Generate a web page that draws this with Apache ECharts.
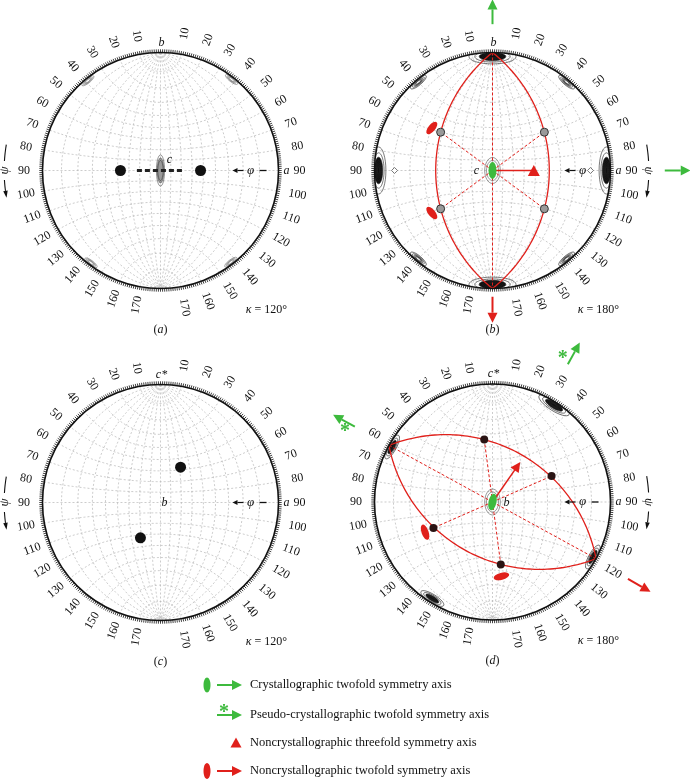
<!DOCTYPE html>
<html>
<head>
<meta charset="utf-8">
<style>html,body{margin:0;padding:0;background:#fff;}#main{width:690px;height:779px;}</style>
<script src="https://cdn.jsdelivr.net/npm/echarts@6/dist/echarts.min.js"></script>
</head>
<body>
<div id="main"></div>
<script>
// rim labels (psi, degrees from the top pole) and net spacing
var psiTicks = [10, 20, 30, 40, 50, 60, 70, 80, 90, 100, 110, 120, 130, 140, 150, 160, 170];
var netStep = 10;

// all positions below are [psi, phi] in degrees
var peaksA = [[90, 52.5], [90, 127.5]];
var coreBarA = [[90, 112.6], [90, 67.4]];
var peaksC = [[57.6, 68.9], [122.4, 111.1]];

var circlePolesB = [[90, 51.4], [90, 128.6]];
var threefoldB = [[90, 51.4]];
var twofoldB = [[60, 38.6], [120, 38.6], [60, 141.4], [120, 141.4]];
var ncsMarksB = [[58.9, 149.5], [121.1, 149.5]];
var poleLineB = [[0, 90], [180, 90]];
var smallPeaksB = [[90, 169.4], [90, 10.6]];

var circlePolesD = [[55.9, 68.3], [124.1, 111.7]];
var dotsD = [[34.5, 101.1], [70.2, 35.0], [109.8, 145.0], [145.5, 78.9]];
var rimPointsD = [[61.3, 180], [118.7, 0]];
var ncsMarksD = [[111.6, 152.0], [153.9, 75.8]];
var ncsArrowD = [[57.7, 63.9]];

var centre = [90, 90];

// contour peaks [psi, phi, number of levels]
var rimPeaksA = [[39, 178, 4], [38, 2, 4], [143, 178, 4], [142.5, 2, 4]];
var corePeaksA = [[90, 90, 3]];
var rimPeaksB = [[90, 178, 8], [90, 2, 8], [2, 90, 8], [178, 90, 8], [40, 178, 5], [40, 2, 5], [140, 178, 5], [140, 2, 5]];
var corePeaksB = [[90, 90, 2]];
var rimPeaksD = [[32.5, 3, 7], [61.3, 178, 6], [118.7, 2, 6], [148, 176, 6]];
var corePeaksD = [[90, 90, 2]];

var R = 118, S = 1.3;
var RED = '#e0201b', GREEN = '#3dba3d';
var serif = '"Liberation Serif", "Times New Roman", serif';

var panels = [
  { cx: 160.5, cy: 170.5, top: 'b', mid: 'c', mdx: 9, mdy: -11, kappa: '120°', tag: 'a', side: -1, dash: true, arrows: [] },
  { cx: 492.5, cy: 170.5, top: 'b', mid: 'c', mdx: -16, mdy: 0, kappa: '180°', tag: 'b', side: 1, dash: false,
    arrows: [[90, 1.24, 1.45, GREEN], [0, 1.46, 1.68, GREEN], [-90, 1.07, 1.29, RED]] },
  { cx: 160.5, cy: 502.5, top: 'c*', mid: 'b', mdx: 4, mdy: 0, kappa: '120°', tag: 'c', side: -1, dash: true, arrows: [] },
  { cx: 492.5, cy: 502, top: 'c*', mid: 'b', mdx: 14, mdy: 1, kappa: '180°', tag: 'd', side: 1, dash: true,
    arrows: [[151.3, 1.33, 1.54, GREEN, [1, 11]], [61.3, 1.33, 1.54, GREEN, [-11, 5]], [-29.6, 1.32, 1.54, RED]] }
];

function vec(psi, phi) {
  var p = psi * Math.PI / 180, f = phi * Math.PI / 180;
  return [Math.sin(p) * Math.cos(f), Math.cos(p), Math.sin(p) * Math.sin(f)];
}
function proj(v) { return [v[0] / (1 + v[2]), v[1] / (1 + v[2])]; }
function stereo(q) { return proj(vec(q[0], q[1])); }

function greatCircle(pole) {
  var n = vec(pole[0], pole[1]);
  var l = Math.sqrt(n[0] * n[0] + n[1] * n[1]);
  var u = [n[1] / l, -n[0] / l, 0];
  var v = [n[1] * u[2] - n[2] * u[1], n[2] * u[0] - n[0] * u[2], n[0] * u[1] - n[1] * u[0]];
  if (v[2] < 0) v = [-v[0], -v[1], -v[2]];
  var pts = [];
  for (var t = 0; t <= 180; t += 2) {
    var a = t * Math.PI / 180, c = Math.cos(a), s = Math.sin(a);
    pts.push(proj([c * u[0] + s * v[0], c * u[1] + s * v[1], c * u[2] + s * v[2]]));
  }
  return pts;
}

var netData = (function () {
  var out = [], f, p, pts;
  for (f = netStep; f < 180; f += netStep) {
    pts = [];
    for (p = 0; p <= 180; p += 2) pts.push(stereo([p, f]));
    out.push({ coords: pts });
  }
  for (p = netStep; p < 180; p += netStep) {
    pts = [];
    for (f = 0; f <= 180; f += 2) pts.push(stereo([p, f]));
    out.push({ coords: pts });
  }
  return out;
})();

function base(k) {
  return { xAxisIndex: k, yAxisIndex: k, silent: true, animation: false };
}

function netSeries(k) {
  return Object.assign(base(k), {
    type: 'lines', coordinateSystem: 'cartesian2d', polyline: true, clip: false,
    lineStyle: { color: '#a9a9a9', width: 0.6, type: [2, 2], opacity: 1 },
    data: netData
  });
}

function segSeries(k, segs, o) {
  return Object.assign(base(k), {
    type: 'lines', coordinateSystem: 'cartesian2d', polyline: !!o.poly, clip: false,
    symbol: o.symbol || 'none', symbolSize: o.symbolSize || 0,
    lineStyle: { color: o.color, width: o.width, type: o.type || 'solid', opacity: 1, curveness: 0 },
    data: segs.map(function (c) { return { coords: c }; })
  });
}

function fromCentre(list) {
  return list.map(function (q) { return [stereo(centre), stereo(q)]; });
}

function markerSeries(k, pts, o) {
  return Object.assign(base(k), {
    type: 'scatter', clip: false, symbol: o.symbol, symbolSize: o.size,
    itemStyle: { color: o.color, borderColor: o.border || o.color, borderWidth: o.bw || 0, opacity: 1 },
    data: pts.map(function (q, i) { return { value: stereo(q), symbolRotate: o.rot ? o.rot[i] : 0 }; })
  });
}

var ELLIPSE = 'path://M0,0A10,10 0 1,1 0,20A10,10 0 1,1 0,0Z';

function contourSeries(k, peaks, sh) {
  return Object.assign(base(k), {
    type: 'custom', clip: false,
    data: peaks.map(function (q) { var p = stereo(q); return [p[0], p[1], q[2]]; }),
    renderItem: function (params, api) {
      var o = api.coord([0, 0]), rr = api.coord([1, 0])[0] - o[0];
      var pt = api.coord([api.value(0), api.value(1)]), n = api.value(2);
      var rot = sh.rim ? Math.atan2(o[1] - pt[1], pt[0] - o[0]) : (sh.rot || 0);
      var fillAt = (sh.heavy && n >= 6) ? n - 3 : (sh.fill ? sh.fillAt : -1);
      var kids = [];
      for (var i = n - 1; i >= 0; i--) {
        var s = Math.pow(sh.grow, i);
        kids.push({
          type: 'ellipse', shape: { cx: 0, cy: 0, rx: sh.a * s, ry: sh.b * s },
          style: { fill: i === fillAt ? (sh.fill || '#111') : 'none', stroke: sh.color, lineWidth: 0.6 }
        });
      }
      return {
        type: 'group',
        clipPath: { type: 'circle', shape: { cx: o[0], cy: o[1], r: rr } },
        children: [{ type: 'group', x: pt[0], y: pt[1], rotation: rot, children: kids }]
      };
    }
  });
}

function frameSeries(k) {
  return Object.assign(base(k), {
    type: 'custom', clip: false, data: [[0, 0]],
    renderItem: function (params, api) {
      var o = api.coord([0, 0]), r = api.coord([1, 0])[0] - o[0];
      var kids = [{ type: 'circle', shape: { cx: o[0], cy: o[1], r: r }, style: { fill: 'none', stroke: '#111', lineWidth: 1.6 } }];
      for (var d = 0; d < 360; d++) {
        var a = d * Math.PI / 180, ca = Math.cos(a), sa = Math.sin(a);
        kids.push({ type: 'line', shape: { x1: o[0] + ca * r, y1: o[1] - sa * r, x2: o[0] + ca * (r + 3.2), y2: o[1] - sa * (r + 3.2) },
          style: { stroke: '#111', lineWidth: 0.8 } });
      }
      psiTicks.forEach(function (t) {
        [1, -1].forEach(function (side) {
          var a = (90 - t) * Math.PI / 180, rl = r + (side > 0 ? 21 : 18.5);
          kids.push({ type: 'text', x: o[0] + side * Math.cos(a) * rl, y: o[1] - Math.sin(a) * rl,
            rotation: side * a,
            style: { text: String(t), font: '12px ' + serif, fill: '#111', align: 'center', verticalAlign: 'middle' } });
        });
      });
      return { type: 'group', children: kids };
    }
  });
}

var series = [];
panels.forEach(function (p, k) { series.push(netSeries(k)); });

// (a)
series.push(contourSeries(0, rimPeaksA, { rim: true, a: 1, b: 3.2, grow: 1.33, color: '#777' }));
series.push(contourSeries(0, corePeaksA, { a: 2.6, b: 10, grow: 1.25, color: '#444', fill: '#9a9a9a', fillAt: 1 }));
series.push(segSeries(0, [coreBarA.map(stereo)], { color: '#222', width: 3, type: [5, 3] }));
series.push(markerSeries(0, peaksA, { symbol: 'circle', size: 11, color: '#111' }));

// (b)
series.push(contourSeries(1, rimPeaksB, { rim: true, a: 1, b: 3.2, grow: 1.33, color: '#222', heavy: true }));
series.push(contourSeries(1, corePeaksB, { a: 6, b: 10, grow: 1.3, color: '#555' }));
series.push(segSeries(1, circlePolesB.map(greatCircle), { color: RED, width: 1.3, poly: true }));
series.push(segSeries(1, fromCentre(twofoldB).concat([poleLineB.map(stereo)]), { color: RED, width: 1, type: [3, 2] }));
series.push(segSeries(1, fromCentre(threefoldB), { color: RED, width: 1.3 }));
series.push(markerSeries(1, twofoldB, { symbol: 'circle', size: 8, color: '#999', border: '#333', bw: 1 }));
series.push(markerSeries(1, smallPeaksB, { symbol: 'diamond', size: 6, color: '#fff', border: '#555', bw: 0.8 }));
series.push(markerSeries(1, threefoldB, { symbol: 'triangle', size: [12, 11], color: RED }));
series.push(markerSeries(1, ncsMarksB, { symbol: ELLIPSE, size: [7, 15], color: RED, rot: [-40, 40] }));
series.push(markerSeries(1, [centre], { symbol: ELLIPSE, size: [8, 17], color: GREEN }));

// (c)
series.push(markerSeries(2, peaksC, { symbol: 'circle', size: 11, color: '#111' }));

// (d)
series.push(contourSeries(3, rimPeaksD, { rim: true, a: 1, b: 3.2, grow: 1.33, color: '#222', heavy: true }));
series.push(contourSeries(3, corePeaksD, { a: 6, b: 10, grow: 1.3, color: '#555' }));
series.push(segSeries(3, circlePolesD.map(greatCircle), { color: RED, width: 1.3, poly: true }));
series.push(segSeries(3, fromCentre(dotsD.concat(rimPointsD)), { color: RED, width: 1, type: [3, 2] }));
series.push(segSeries(3, fromCentre(ncsArrowD), { color: RED, width: 1.5, symbol: ['none', 'triangle'], symbolSize: 10 }));
series.push(markerSeries(3, dotsD, { symbol: 'circle', size: 8, color: '#2a1414' }));
series.push(markerSeries(3, ncsMarksD, { symbol: ELLIPSE, size: [7, 16], color: RED, rot: [20, -75] }));
series.push(markerSeries(3, [centre], { symbol: ELLIPSE, size: [8, 17], color: GREEN, rot: [-12] }));

panels.forEach(function (p, k) { series.push(frameSeries(k)); });

// annotations and key
function txt(x, y, text, opt) {
  opt = opt || {};
  return { type: 'text', x: x, y: y, rotation: opt.rot || 0, z: 10,
    style: { text: text, font: (opt.bold ? 'bold ' : '') + (opt.italic ? 'italic ' : '') + (opt.size || 12) + 'px ' + serif,
      fill: opt.color || '#111', align: opt.align || 'center', verticalAlign: 'middle', rich: opt.rich } };
}
function head(b, t, w) {
  var dx = t[0] - b[0], dy = t[1] - b[1], L = Math.sqrt(dx * dx + dy * dy), px = -dy / L * w / 2, py = dx / L * w / 2;
  return [t, [b[0] + px, b[1] + py], [b[0] - px, b[1] - py]];
}
function arrow(x1, y1, x2, y2, color, w, hl, hw) {
  var dx = x2 - x1, dy = y2 - y1, L = Math.sqrt(dx * dx + dy * dy);
  var b = [x2 - dx / L * hl, y2 - dy / L * hl];
  return [
    { type: 'line', z: 10, shape: { x1: x1, y1: y1, x2: b[0], y2: b[1] }, style: { stroke: color, lineWidth: w } },
    { type: 'polygon', z: 10, shape: { points: head(b, [x2, y2], hw) }, style: { fill: color } }
  ];
}
function star(x, y) {
  return txt(x, y, '*', { size: 20, bold: true, color: GREEN });
}

var graphics = [];
var capRich = { n: { font: '12px ' + serif, fill: '#111' }, i: { font: 'italic 12px ' + serif, fill: '#111' } };
panels.forEach(function (p) {
  graphics.push(txt(p.cx + 1, p.cy - 128, p.top, { italic: true }));
  graphics.push(txt(p.cx + p.mdx, p.cy + p.mdy, p.mid, { italic: true }));
  graphics.push(txt(p.cx + 126, p.cy, 'a', { italic: true }));
  graphics = graphics.concat(arrow(p.cx + 83, p.cy, p.cx + 72, p.cy, '#111', 1.2, 5, 5));
  graphics.push(txt(p.cx + 90, p.cy, 'φ', { italic: true, size: 13 }));
  if (p.dash) graphics.push({ type: 'line', z: 10, shape: { x1: p.cx + 99, y1: p.cy, x2: p.cx + 106, y2: p.cy }, style: { stroke: '#111', lineWidth: 1.3 } });
  graphics.push(txt(p.cx + 106, p.cy + 139, '{i|κ}{n| = ' + p.kappa + '}', { rich: capRich }));
  graphics.push(txt(p.cx, p.cy + 159, '{n|(}{i|' + p.tag + '}{n|)}', { rich: capRich }));

  // psi direction arrow on the outer side
  var s = p.side, rp = 1.325 * R;
  var at = function (t) { var a = t * Math.PI / 180; return [p.cx + s * Math.cos(a) * rp, p.cy - Math.sin(a) * rp]; };
  var top = [], bot = [], t;
  for (t = 9.5; t >= 3.5; t -= 0.5) top.push(at(t));
  for (t = -3.5; t >= -7.5; t -= 0.5) bot.push(at(t));
  graphics.push({ type: 'polyline', z: 10, shape: { points: top }, style: { stroke: '#111', lineWidth: 1.1, fill: 'none' } });
  graphics.push({ type: 'polyline', z: 10, shape: { points: bot }, style: { stroke: '#111', lineWidth: 1.1, fill: 'none' } });
  graphics.push({ type: 'polygon', z: 10, shape: { points: head(at(-7.5), at(-10), 4.5) }, style: { fill: '#111' } });
  var mid = at(0);
  graphics.push(txt(mid[0], mid[1], 'ψ', { italic: true, size: 13, rot: s < 0 ? Math.PI / 2 : -Math.PI / 2 }));

  // symmetry-axis directions outside the rim
  p.arrows.forEach(function (ar) {
    var a = ar[0] * Math.PI / 180, c = Math.cos(a), sn = Math.sin(a);
    graphics = graphics.concat(arrow(p.cx + c * ar[1] * R, p.cy - sn * ar[1] * R, p.cx + c * ar[2] * R, p.cy - sn * ar[2] * R, ar[3], 2, 10, 10));
    if (ar[4]) {
      var m = (ar[1] + ar[2]) / 2;
      graphics.push(star(p.cx + c * m * R + ar[4][0], p.cy - sn * m * R + ar[4][1]));
    }
  });
});

// key
var keyText = ['Crystallographic twofold symmetry axis', 'Pseudo-crystallographic twofold symmetry axis',
  'Noncrystallographic threefold symmetry axis', 'Noncrystallographic twofold symmetry axis'];
var keyY = [685, 715, 743, 771];
graphics.push({ type: 'ellipse', shape: { cx: 207, cy: keyY[0], rx: 3.5, ry: 7.5 }, style: { fill: GREEN } });
graphics = graphics.concat(arrow(217, keyY[0], 242, keyY[0], GREEN, 2, 10, 10));
graphics = graphics.concat(arrow(217, keyY[1], 242, keyY[1], GREEN, 2, 10, 10));
graphics.push(star(224, keyY[1] - 2));
graphics.push({ type: 'polygon', shape: { points: [[236, keyY[2] - 5.5], [241.5, keyY[2] + 4.5], [230.5, keyY[2] + 4.5]] }, style: { fill: RED } });
graphics.push({ type: 'ellipse', shape: { cx: 207, cy: keyY[3], rx: 3.5, ry: 8 }, style: { fill: RED } });
graphics = graphics.concat(arrow(217, keyY[3], 242, keyY[3], RED, 2, 10, 10));
keyText.forEach(function (t, i) { graphics.push(txt(250, keyY[i], t, { align: 'left', size: 12.5 })); });

var chart = echarts.init(document.getElementById('main'));
chart.setOption({
  animation: false,
  backgroundColor: '#fff',
  grid: panels.map(function (p) { return { left: p.cx - S * R, top: p.cy - S * R, width: 2 * S * R, height: 2 * S * R }; }),
  xAxis: panels.map(function (p, i) { return { gridIndex: i, type: 'value', min: -S, max: S, show: false }; }),
  yAxis: panels.map(function (p, i) { return { gridIndex: i, type: 'value', min: -S, max: S, show: false }; }),
  series: series,
  graphic: graphics
});
</script>
</body>
</html>
